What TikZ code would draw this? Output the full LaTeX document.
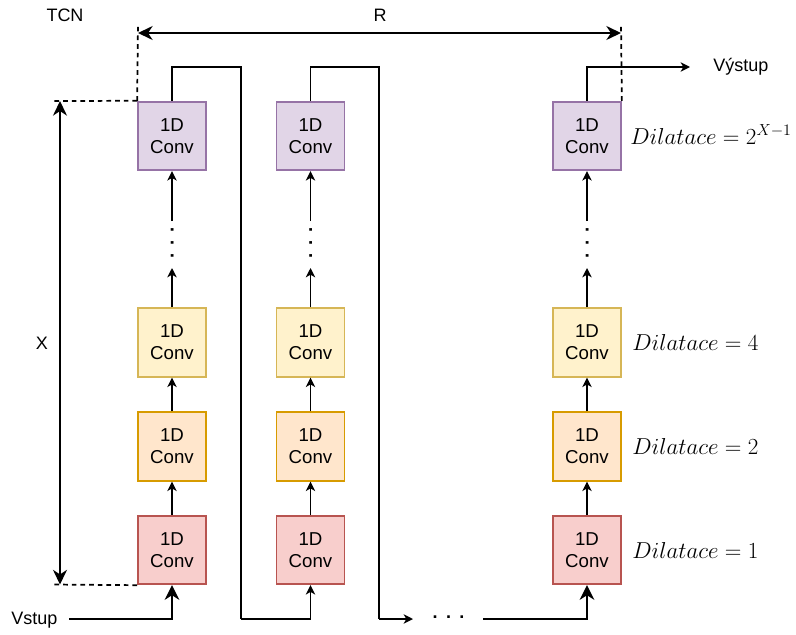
\documentclass[tikz,border=0pt]{standalone}
\usepackage[no-math]{fontspec}
\setmainfont{Liberation Sans}
\usetikzlibrary{arrows.meta}
\definecolor{pfill}{HTML}{E1D5E7}\definecolor{pline}{HTML}{9673A6}
\definecolor{yfill}{HTML}{FFF2CC}\definecolor{yline}{HTML}{D6B656}
\definecolor{ofill}{HTML}{FFE6CC}\definecolor{oline}{HTML}{D79B00}
\definecolor{rfill}{HTML}{F8CECC}\definecolor{rline}{HTML}{B85450}
\begin{document}
\begin{tikzpicture}[x=0.75pt,y=-0.75pt,
  conv/.style={draw, line width=1.3pt, minimum width=51pt, minimum height=51.5pt, inner sep=0pt, align=center, font=\fontsize{14}{16.5}\selectfont},
  redbox/.style={conv, fill=rfill, draw=rline},
  orabox/.style={conv, fill=ofill, draw=oline},
  yelbox/.style={conv, fill=yfill, draw=yline},
  purbox/.style={conv, fill=pfill, draw=pline},
  wire/.style={line width=1.4pt},
  arr/.style={wire, -{Stealth[length=7pt,width=7pt,inset=2pt]}},
  bigarr/.style={wire, -{Stealth[length=11pt,width=11pt,inset=3.5pt]}},
  dbl/.style={wire, {Stealth[length=11pt,width=10.5pt,inset=3.5pt]}-{Stealth[length=11pt,width=10.5pt,inset=3.5pt]}},
  dsh/.style={line width=1.3pt, dash pattern=on 3.5pt off 3pt},
  lbl/.style={inner sep=0pt, font=\fontsize{13.5}{16}\selectfont},
  dil/.style={inner sep=0pt, anchor=base west, font=\fontsize{17}{20}\selectfont},
  vd/.style={inner sep=0pt, anchor=base, rotate=90, font=\fontsize{14}{16}\selectfont\bfseries}
]
\useasboundingbox (0,0) rectangle (796,635);

% columns
\foreach \c/\x in {1/172,2/310.5,3/587}{
  \node[redbox] (r\c) at (\x,550) {1D\\Conv};
  \node[orabox] (o\c) at (\x,446.5) {1D\\Conv};
  \node[yelbox] (y\c) at (\x,342.5) {1D\\Conv};
  \node[purbox] (p\c) at (\x,136) {1D\\Conv};
  \coordinate (ya\c) at (\x,268);
  \coordinate (yb\c) at (\x,221);
  \node[vd] (d\c) at (\x+1.5,243) {.\hspace{5.6pt}.\hspace{5.6pt}.};
  \draw[arr] (r\c.north) -- (o\c.south);
  \draw[arr] (o\c.north) -- (y\c.south);
  \draw[arr] (y\c.north) -- (ya\c);
  \draw[arr] (yb\c) -- (p\c.south);
}

% feedback / routing
\coordinate (t1) at (241,67);
\coordinate (b1) at (241,619);
\coordinate (t2) at (379,67);
\coordinate (b2) at (379,619);
\coordinate (e2) at (413,619);
\coordinate (s3) at (483,619);
\coordinate (out) at (690,67);
\draw[wire] (p1.north) |- (t1) -- (b1);
\draw[arr] (b1) -| (r2.south);
\draw[wire] (p2.north) |- (t2) -- (b2);
\draw[arr] (b2) -- (e2);
\node[lbl, anchor=base, font=\fontsize{13.5}{16}\selectfont\bfseries] (dots) at (448.5,618.5) {.\hspace{6.2pt}.\hspace{6.2pt}.};
\draw[bigarr] (s3) -| (r3.south);
\draw[arr] (p3.north) |- (out);
\node[lbl, anchor=west] (vy) at (713,67) {Výstup};

% input
\node[lbl, anchor=west] (vs) at (11,620) {Vstup};
\coordinate (in) at (69,619);
\draw[bigarr] (in) -| (r1.south);

% R dimension
\coordinate (ra) at (138,24);
\coordinate (rb) at (621,24);
\coordinate (ra2) at (138,33);
\coordinate (rb2) at (621,33);
\draw[dsh] (p1.north west) -- (ra);
\draw[dsh] (p3.north east) -- (rb);
\draw[dbl] (ra2) -- (rb2);
\node[lbl] (R) at (380,15) {R};

% X dimension
\coordinate (xa) at (51,101);
\coordinate (xb) at (51,584.5);
\coordinate (xa2) at (60,101);
\coordinate (xb2) at (60,584.5);
\draw[dsh] (p1.north west) -- (xa);
\draw[dsh] (r1.south west) -- (xb);
\draw[dbl] (xa2) -- (xb2);
\node[lbl] (X) at (42,343) {X};

\node[lbl] (tcn) at (65,15) {TCN};

% dilation labels
\node[dil] (l4) at (630,144) {$Dilatace = 2^{X-1}$};
\node[dil] (l3) at (632,350.5) {$Dilatace = 4$};
\node[dil] (l2) at (632,454.5) {$Dilatace = 2$};
\node[dil] (l1) at (632,558) {$Dilatace = 1$};
\end{tikzpicture}
\end{document}
